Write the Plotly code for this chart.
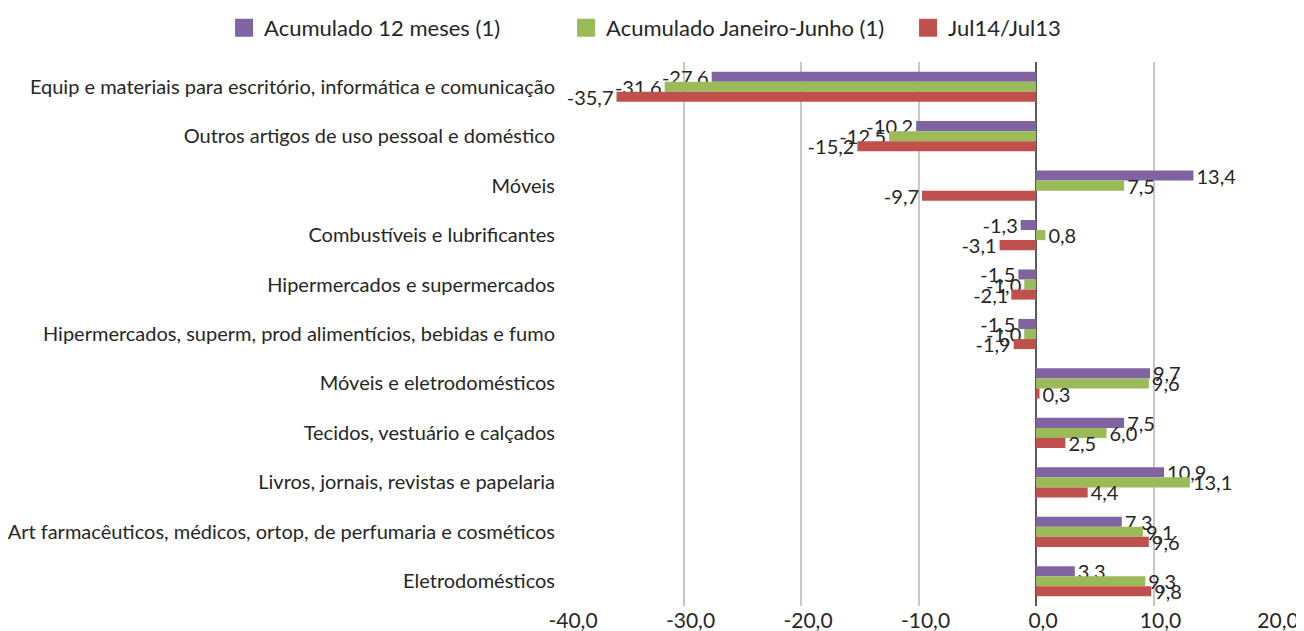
import plotly.graph_objects as go

categories = [
    "Equip e materiais para escritório, informática e comunicação",
    "Outros artigos de uso pessoal e doméstico",
    "Móveis",
    "Combustíveis e lubrificantes",
    "Hipermercados e supermercados",
    "Hipermercados, superm, prod alimentícios, bebidas e fumo",
    "Móveis e eletrodomésticos",
    "Tecidos, vestuário e calçados",
    "Livros, jornais, revistas e papelaria",
    "Art farmacêuticos, médicos, ortop, de perfumaria e cosméticos",
    "Eletrodomésticos",
]
acum_12 = [-27.6, -10.2, 13.4, -1.3, -1.5, -1.5, 9.7, 7.5, 10.9, 7.3, 3.3]
acum_jan_jun = [-31.6, -12.5, 7.5, 0.8, -1.0, -1.0, 9.6, 6.0, 13.1, 9.1, 9.3]
jul14_jul13 = [-35.7, -15.2, -9.7, -3.1, -2.1, -1.9, 0.3, 2.5, 4.4, 9.6, 9.8]
series_names = ["Acumulado 12 meses (1)", "Acumulado Janeiro-Junho (1)", "Jul14/Jul13"]
tick_values = [-40, -30, -20, -10, 0, 10, 20]

colors = ["#8064A2", "#9BBB59", "#C0504D"]
FONT = "Lato"
TXT = "#262626"


def fmt(v):
    return f"{v:.1f}".replace(".", ",")


fig = go.Figure()
for name, vals, col in zip(series_names, [acum_12, acum_jan_jun, jul14_jul13], colors):
    fig.add_trace(go.Bar(
        y=categories, x=vals, name=name, orientation="h",
        marker=dict(color=col, line=dict(width=0)),
        text=[fmt(v) for v in vals], textposition="outside",
        constraintext="none", cliponaxis=False, showlegend=False,
        textfont=dict(family=FONT, size=20, color=TXT),
    ))

# legend entries with larger square swatches
for name, col in zip(series_names, colors):
    fig.add_trace(go.Scatter(
        x=[None], y=[None], mode="markers", name=name,
        marker=dict(symbol="square", size=16, color=col, line=dict(color=col, width=2)),
    ))

# page body has an 8px margin, so the figure is sized/offset to compensate
fig.update_layout(
    width=1296, height=623,
    barmode="group", bargap=0.39, bargroupgap=0,
    plot_bgcolor="white", paper_bgcolor="white",
    margin=dict(l=558, r=33, t=54, b=25, autoexpand=False),
    font=dict(family=FONT, color=TXT),
    legend=dict(orientation="h", xref="paper", yref="paper",
                x=-0.485, xanchor="left", y=1.0625, yanchor="middle",
                bgcolor="rgba(0,0,0,0)",
                font=dict(family=FONT, size=22, color=TXT),
                itemsizing="trace", itemwidth=30,
                entrywidth=297, entrywidthmode="pixels"),
    xaxis=dict(range=[-40, 20], tickvals=tick_values,
               ticktext=[fmt(v) for v in tick_values],
               showgrid=True, gridcolor="#C8C8C8", gridwidth=1.5,
               zeroline=True, zerolinecolor="#595959", zerolinewidth=2,
               showline=False, ticks="", automargin=False,
               ticklabelshift=7,
               tickfont=dict(family=FONT, size=21, color=TXT)),
    yaxis=dict(autorange="reversed", showgrid=False, ticks="",
               showline=False, ticklen=0, automargin=False,
               ticklabelstandoff=10,
               tickfont=dict(family=FONT, size=20, color=TXT)),
)

fig.write_html("out.html")
